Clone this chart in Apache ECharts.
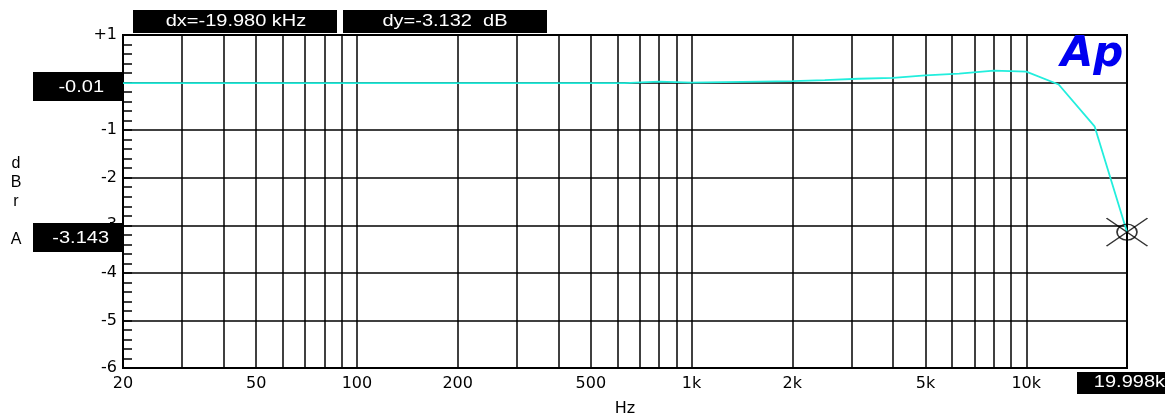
<!DOCTYPE html>
<html>
<head>
<meta charset="utf-8">
<script src="https://cdn.jsdelivr.net/npm/echarts@6/dist/echarts.min.js"></script>
<style>
html,body{margin:0;padding:0;background:#fff;}
#chart{width:1165px;height:416px;}
</style>
</head>
<body>
<div id="chart"></div>
<script>
// ---- data ----
const freqs = [20, 25, 31.5, 40, 50, 63, 80, 100, 125, 160, 200, 250, 315, 400, 500,
  630, 800, 1000, 1250, 1600, 2000, 2500, 3150, 4000, 5000, 6300, 8000, 10000, 12500, 16000, 19998];
const dbrA = [-0.01, -0.01, -0.01, -0.01, -0.01, -0.01, -0.01, -0.01, -0.01, -0.01, -0.01, -0.01, -0.01, -0.01, -0.01,
  -0.01, 0.02, 0.0, 0.01, 0.02, 0.03, 0.05, 0.08, 0.10, 0.15, 0.19, 0.25, 0.23, -0.04, -0.92, -3.143];
const xTickLabels = [20, 50, 100, 200, 500, 1000, 2000, 5000, 10000];
const xGridFreqs = [30, 40, 50, 60, 70, 80, 90, 100, 200, 300, 400, 500, 600, 700, 800, 900,
  1000, 2000, 3000, 4000, 5000, 6000, 7000, 8000, 9000, 10000];
const yTicks = [1, 0, -1, -2, -3, -4, -5, -6];
const cursorReadings = { dx: 'dx=-19.980 kHz', dy: 'dy=-3.132  dB', leftY: '-0.01', cursorY: '-3.143', cursorX: '19.998k' };

const lineData = freqs.map((f, i) => [f, dbrA[i]]);
const cursorPt = [freqs[freqs.length - 1], dbrA[dbrA.length - 1]];

const chart = echarts.init(document.getElementById('chart'), null, { renderer: 'canvas' });

function box(x, y, w, h, text, tx, ty, align) {
  return [
    { type: 'rect', z: 100, shape: { x: x, y: y, width: w, height: h }, style: { fill: '#000' } },
    { type: 'text', z: 101, x: tx, y: ty, scaleX: 1.25,
      style: { text: text, fill: '#fff', font: '16px "Liberation Sans", Arial, sans-serif', align: align, verticalAlign: 'middle' } }
  ];
}

const option = {
  animation: false,
  backgroundColor: '#fff',
  grid: { left: 123, right: 38, top: 35, bottom: 48, outerBoundsMode: 'none', containLabel: false,
    show: true, borderColor: '#000', borderWidth: 2, backgroundColor: 'transparent' },
  xAxis: {
    type: 'log', logBase: 10, min: 20, max: 20000,
    name: 'Hz', nameLocation: 'middle', nameGap: 33,
    nameTextStyle: { fontFamily: 'DejaVu Sans', fontSize: 16, color: '#000' },
    axisLine: { show: false },
    axisTick: { show: false },
    splitLine: { show: false },
    minorTick: { show: false },
    minorSplitLine: { show: false },
    axisLabel: {
      customValues: xTickLabels,
      margin: 8,
      fontFamily: 'DejaVu Sans', fontSize: 16, color: '#000',
      formatter: v => v >= 1000 ? (v / 1000) + 'k' : String(v)
    }
  },
  yAxis: {
    type: 'value', min: -6, max: 1, interval: 1,
    axisLine: { show: false },
    axisTick: { show: true, inside: true, length: 9, lineStyle: { color: '#000', width: 1.5 } },
    minorTick: { show: true, splitNumber: 5, length: 9, lineStyle: { color: '#000', width: 1.5 } },
    splitLine: { show: true, lineStyle: { color: '#000', width: 1.5 } },
    axisLabel: {
      margin: 6,
      fontFamily: 'DejaVu Sans', fontSize: 16, color: '#000',
      formatter: v => v > 0 ? '+' + v : String(v)
    }
  },
  graphic: [
    ...box(133, 10, 204, 23, cursorReadings.dx, 236, 22, 'center'),
    ...box(343, 10, 204, 23, cursorReadings.dy, 445, 22, 'center'),
    ...box(33, 72, 90, 29, cursorReadings.leftY, 104, 88, 'right'),
    ...box(33, 223, 90, 29, cursorReadings.cursorY, 109, 239, 'right'),
    ...box(1077, 372, 88, 22, cursorReadings.cursorX, 1165, 383, 'right'),
    { type: 'text', z: 101, x: 16, y: 154,
      style: { text: 'd\nB\nr\n\nA', fill: '#000', font: '16px "Liberation Sans", Arial, sans-serif', align: 'center', verticalAlign: 'top', lineHeight: 19 } },
    { type: 'text', z: 101, x: 1092, y: 55,
      style: { text: 'Ap', fill: '#0000f0', font: 'italic bold 42px "DejaVu Sans", Arial, sans-serif', align: 'center', verticalAlign: 'middle' } }
  ],
  series: [
    {
      type: 'line', data: [], silent: true,
      markLine: {
        silent: true, symbol: 'none', label: { show: false },
        lineStyle: { color: '#000', width: 1.5, type: 'solid' },
        data: xGridFreqs.map(f => ({ xAxis: f }))
      }
    },
    {
      type: 'line', data: lineData, showSymbol: false, silent: true, z: 5,
      lineStyle: { color: '#22eedd', width: 1.8 }
    },
    {
      type: 'scatter', data: [cursorPt], silent: true, z: 6,
      symbol: 'circle', symbolSize: [20, 16],
      itemStyle: { color: 'rgba(0,0,0,0)', borderColor: '#000', borderWidth: 1.5 }
    },
    {
      type: 'scatter', data: [cursorPt], silent: true, z: 6,
      symbol: 'path://M0,0L41,28M41,0L0,28', symbolSize: [41, 28],
      itemStyle: { color: 'rgba(0,0,0,0)', borderColor: '#000', borderWidth: 1.5 }
    }
  ]
};
chart.setOption(option);
</script>
</body>
</html>
